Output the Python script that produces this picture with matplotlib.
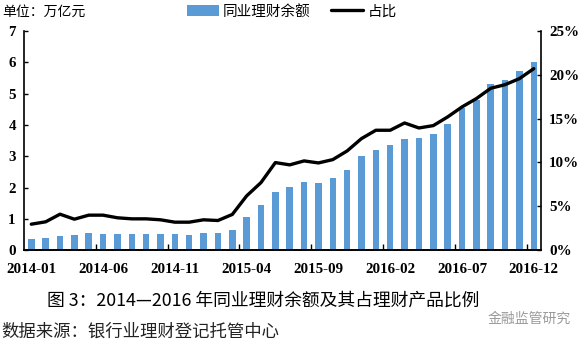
import numpy as np
import matplotlib
matplotlib.use("Agg")
import matplotlib.pyplot as plt
from matplotlib.ticker import FixedLocator, PercentFormatter

# monthly data, 2014-01 .. 2016-12
months = ["%d-%02d" % (y, m) for y in (2014, 2015, 2016) for m in range(1, 13)]
balance = [0.35, 0.40, 0.46, 0.48, 0.55, 0.50, 0.53, 0.53, 0.53, 0.53, 0.50, 0.48,
           0.55, 0.55, 0.65, 1.07, 1.45, 1.85, 2.02, 2.17, 2.14, 2.29, 2.56, 3.01,
           3.21, 3.36, 3.54, 3.59, 3.71, 4.03, 4.55, 4.79, 5.31, 5.43, 5.71, 6.00]
share = [2.96, 3.23, 4.10, 3.53, 3.99, 3.99, 3.69, 3.57, 3.57, 3.46, 3.19, 3.19,
         3.46, 3.38, 4.07, 6.19, 7.71, 9.99, 9.73, 10.18, 9.95, 10.33, 11.32, 12.73,
         13.68, 13.68, 14.51, 13.94, 14.21, 15.20, 16.34, 17.29, 18.47, 18.88, 19.57, 20.71]

CJK = ["Noto Sans CJK SC", "DejaVu Sans"]
SERIF = "Liberation Serif"

fig = plt.figure(figsize=(5.88, 3.45), dpi=100)
ax = fig.add_axes([0.041, 0.275, 0.879, 0.635])
ax2 = ax.twinx()

x = np.arange(len(months))
bars = ax.bar(x, balance, width=0.45, color="#5B9BD5", label="同业理财余额", zorder=2)
line, = ax2.plot(x, share, color="black", lw=2.4, solid_capstyle="round",
                 label="占比", zorder=3)

ax.set_xlim(-0.5, len(months) - 0.5)
ax.set_ylim(0, 7)
ax2.set_ylim(0, 25)
ax.set_yticks(range(0, 8))
ax2.set_yticks(range(0, 26, 5))
ax2.yaxis.set_major_formatter(PercentFormatter(decimals=0))

# labels every five months, tick marks between categories
ax.xaxis.set_major_locator(FixedLocator(np.arange(4.5, 35, 5)))
ax.xaxis.set_minor_locator(FixedLocator(x[::5]))
ax.set_xticklabels([], minor=False)
ax.set_xticklabels(months[::5], minor=True)
ax.tick_params(axis="x", which="major", direction="in", length=4, width=1)
ax.tick_params(axis="x", which="minor", length=0, pad=9)

ax.tick_params(axis="y", direction="in", length=3, width=1, pad=6)
ax2.tick_params(axis="y", direction="in", length=3, width=1, pad=6)

for a in (ax, ax2):
    a.spines["top"].set_visible(False)
    for s in ("left", "right", "bottom"):
        a.spines[s].set_linewidth(1.2)
ax2.spines["left"].set_visible(False)
ax.spines["right"].set_visible(False)

for lab in ax.get_xticklabels(minor=True) + ax.get_yticklabels() + ax2.get_yticklabels():
    lab.set_fontfamily(SERIF)
    lab.set_fontweight("bold")
    lab.set_fontsize(10.8)

fig.legend(handles=[bars, line], loc="upper left", bbox_to_anchor=(0.295, 1.025),
           ncol=2, frameon=False, prop={"family": CJK, "size": 10.5},
           handlelength=2.2, handletextpad=0.3, columnspacing=1.4)

fig.text(0.003, 0.965, "单位：万亿元", family=CJK, fontsize=10, va="center")
fig.text(0.447, 0.128, "图 3：2014—2016 年同业理财余额及其占理财产品比例",
         family=CJK, fontsize=12.8, ha="center", va="center")
fig.text(0.003, 0.04, "数据来源：银行业理财登记托管中心", family=CJK,
         fontsize=12.5, va="center", color="#222222")
fig.text(0.90, 0.075, "金融监管研究", family=CJK, fontsize=10,
         color="#9a9a9a", va="center", ha="center")

fig.savefig("out.png", dpi=100)
